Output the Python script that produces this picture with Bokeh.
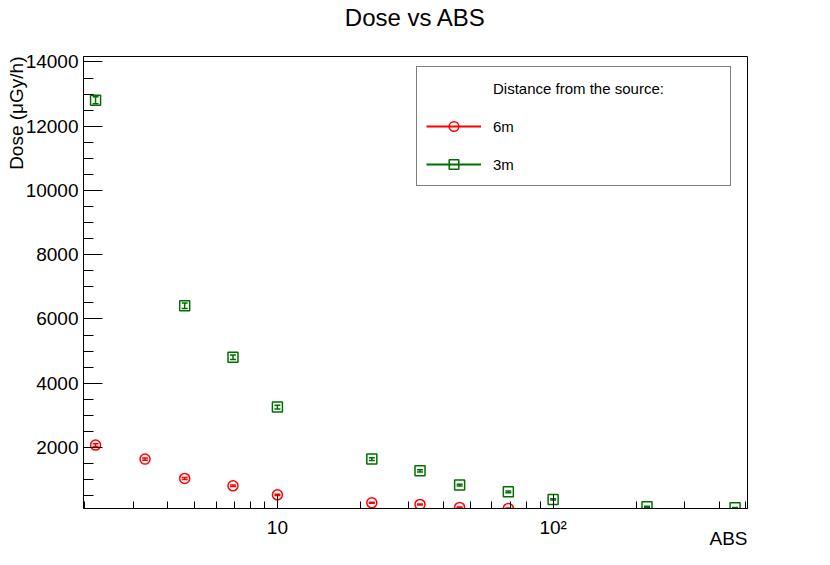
from bokeh.plotting import figure
from bokeh.models import (ColumnDataSource, FixedTicker, SingleIntervalTicker, Legend,
                          LegendItem, Title, Whisker, TeeHead)
from bokeh.embed import file_html
from bokeh.resources import INLINE

# ---- data ----
abs_6m = [2.19, 3.31, 4.61, 6.90, 10.0, 22.0, 32.9, 45.8, 68.8]
dose_6m = [2073, 1637, 1036, 806, 526, 277, 227, 134, 103]
err_6m = [40, 35, 30, 25, 20, 15, 15, 10, 10]

abs_3m = [2.19, 4.61, 6.90, 10.0, 22.0, 32.9, 45.8, 68.8, 100.0, 219.0, 457.0]
dose_3m = [12808, 6408, 4812, 3256, 1637, 1273, 828, 619, 383, 153, 121]
err_3m = [110, 85, 70, 55, 40, 35, 30, 25, 20, 15, 10]

x_major_ticks = [10, 100]
x_tick_labels = ["10", "10\u00b2"]
x_minor_ticks = [2, 3, 4, 5, 6, 7, 8, 9, 20, 30, 40, 50, 60, 70, 80, 90, 200, 300, 400, 500]

series_labels = ["6m", "3m"]
legend_header = "Distance from the source:"
title_text = "Dose vs ABS"
x_title = "ABS"
y_title = "Dose (\u03bcGy/h)"

RED = "#ff0000"
GREEN = "#006e00"
FONT = "Liberation Sans"

X_START, X_END = 1.98, 507
Y_START, Y_END = 100, 14170

p = figure(width=830, height=565, x_axis_type="log",
           x_range=(X_START, X_END), y_range=(Y_START, Y_END),
           output_backend="svg", toolbar_location=None,
           min_border_left=83, min_border_right=83,
           min_border_top=56, min_border_bottom=57,
           background_fill_color="white", border_fill_color="white")

p.title.text = title_text
p.title.align = "center"
p.title.text_font = FONT
p.title.text_font_size = "24px"
p.title.text_font_style = "normal"
p.title.text_color = "black"
p.title.standoff = 0
try:
    p.title.padding = dict(left=0, right=0, top=0, bottom=26)
except Exception:
    p.title.standoff = 27

p.grid.visible = False
p.outline_line_color = "black"
p.outline_line_width = 1

# axes
xa = p.xaxis[0]
xa.ticker = FixedTicker(ticks=x_major_ticks, minor_ticks=x_minor_ticks)
xa.major_label_overrides = dict(zip(x_major_ticks, x_tick_labels))
ya = p.yaxis[0]
ya.ticker = SingleIntervalTicker(interval=2000, num_minor_ticks=4)

for ax in (xa, ya):
    ax.axis_line_color = "black"
    ax.axis_line_width = 1
    ax.major_tick_line_color = "black"
    ax.minor_tick_line_color = "black"
    ax.major_tick_out = 0
    ax.minor_tick_out = 0
    ax.major_label_text_font = FONT
    ax.major_label_text_font_size = "19px"
    ax.major_label_text_color = "black"

xa.major_tick_in = 14
xa.minor_tick_in = 7
xa.major_label_standoff = 8
ya.major_tick_in = 19
ya.minor_tick_in = 10
ya.major_label_standoff = 5

# axis titles, ROOT style at the end of each axis
p.add_layout(Title(text=x_title, align="right", vertical_align="top", text_font=FONT,
                   text_font_size="19px", text_font_style="normal", text_color="black",
                   standoff=-26), "below")
p.add_layout(Title(text=y_title, align="right", text_font=FONT, text_font_size="19px",
                   text_font_style="normal", text_color="black", standoff=-8), "left")

# error bars
src6 = ColumnDataSource(dict(x=abs_6m, y=dose_6m,
                             lo=[d - e for d, e in zip(dose_6m, err_6m)],
                             hi=[d + e for d, e in zip(dose_6m, err_6m)]))
src3 = ColumnDataSource(dict(x=abs_3m, y=dose_3m,
                             lo=[d - e for d, e in zip(dose_3m, err_3m)],
                             hi=[d + e for d, e in zip(dose_3m, err_3m)]))

for src, col in ((src6, RED), (src3, GREEN)):
    w = Whisker(base="x", lower="lo", upper="hi", source=src, dimension="height",
                line_color=col, line_width=1.5,
                lower_head=TeeHead(size=6, line_color=col, line_width=1.5),
                upper_head=TeeHead(size=6, line_color=col, line_width=1.5))
    p.add_layout(w)

# markers
r6 = p.scatter("x", "y", source=src6, marker="circle", size=10,
               fill_color=None, line_color=RED, line_width=1.5)
r3 = p.scatter("x", "y", source=src3, marker="square", size=10,
               fill_color=None, line_color=GREEN, line_width=1.5)

# legend-only line renderers (hidden in the plot, points are not joined)
l6 = p.line("x", "y", source=src6, line_color=RED, line_width=2, visible=False)
l3 = p.line("x", "y", source=src3, line_color=GREEN, line_width=2, visible=False)
hdr = p.scatter("x", "y", source=src6, alpha=0, visible=False)

legend = Legend(items=[
    LegendItem(label=legend_header, renderers=[hdr]),
    LegendItem(label=series_labels[0], renderers=[l6, r6]),
    LegendItem(label=series_labels[1], renderers=[l3, r3]),
], location=(333, 322))
legend.padding = 9
legend.glyph_height = 24
legend.label_height = 22
legend.glyph_width = 55
legend.spacing = 14
legend.label_standoff = 12
legend.label_width = 228
legend.margin = 0
legend.label_text_font = FONT
legend.label_text_font_size = "15px"
legend.label_text_color = "black"
legend.border_line_color = "black"
legend.border_line_width = 1
legend.background_fill_color = "white"
legend.background_fill_alpha = 1
legend.inactive_fill_alpha = 0
legend.click_policy = "none"
p.add_layout(legend, "center")

open("out.html", "w").write(file_html(p, INLINE))
